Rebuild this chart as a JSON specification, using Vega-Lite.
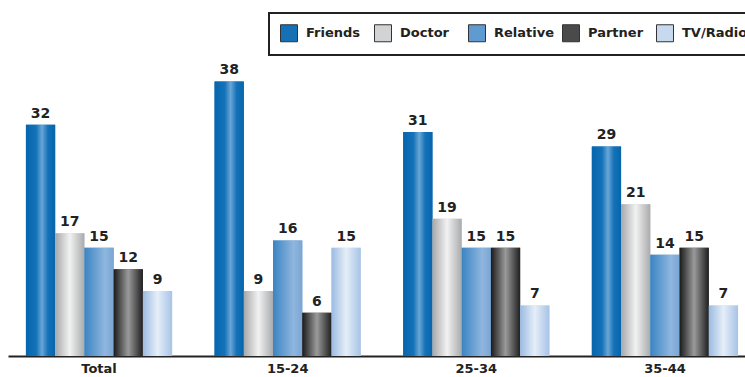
{
  "$schema": "https://vega.github.io/schema/vega-lite/v6.json",
  "width": 737,
  "height": 289,
  "autosize": "none",
  "padding": {"left": 8, "top": 67, "right": 0, "bottom": 21},
  "background": "white",
  "config": {"view": {"stroke": null}, "font": "DejaVu Sans", "legend": {"strokeWidth": 2}},
  "data": {
    "values": [
      {"group": "Total", "series": "Friends", "value": 32},
      {"group": "Total", "series": "Doctor", "value": 17},
      {"group": "Total", "series": "Relative", "value": 15},
      {"group": "Total", "series": "Partner", "value": 12},
      {"group": "Total", "series": "TV/Radio", "value": 9},
      {"group": "15-24", "series": "Friends", "value": 38},
      {"group": "15-24", "series": "Doctor", "value": 9},
      {"group": "15-24", "series": "Relative", "value": 16},
      {"group": "15-24", "series": "Partner", "value": 6},
      {"group": "15-24", "series": "TV/Radio", "value": 15},
      {"group": "25-34", "series": "Friends", "value": 31},
      {"group": "25-34", "series": "Doctor", "value": 19},
      {"group": "25-34", "series": "Relative", "value": 15},
      {"group": "25-34", "series": "Partner", "value": 15},
      {"group": "25-34", "series": "TV/Radio", "value": 7},
      {"group": "35-44", "series": "Friends", "value": 29},
      {"group": "35-44", "series": "Doctor", "value": 21},
      {"group": "35-44", "series": "Relative", "value": 14},
      {"group": "35-44", "series": "Partner", "value": 15},
      {"group": "35-44", "series": "TV/Radio", "value": 7}
    ]
  },
  "encoding": {
    "x": {
      "field": "group", "type": "nominal",
      "sort": ["Total", "15-24", "25-34", "35-44"],
      "scale": {"paddingInner": 0.225, "paddingOuter": 0.066, "align": 0.72},
      "axis": {"title": null, "domainColor": "#222", "domainWidth": 2, "ticks": false, "labelAngle": 0,
               "labelFont": "DejaVu Sans", "labelFontWeight": "bold", "labelFontSize": 13, "labelColor": "#222", "labelPadding": 6}
    },
    "xOffset": {
      "field": "series", "type": "nominal",
      "scale": {"domain": ["Friends", "Doctor", "Relative", "Partner", "TV/Radio"], "paddingInner": 0, "paddingOuter": 0}
    },
    "y": {"field": "value", "type": "quantitative", "scale": {"domain": [0, 40]}, "axis": null}
  },
  "layer": [
    {
      "mark": {"type": "bar"},
      "encoding": {
        "color": {
          "field": "series", "type": "nominal",
          "scale": {
            "domain": ["Friends", "Doctor", "Relative", "Partner", "TV/Radio"],
            "range": ["#1670b6", "#d2d3d4", "#5f9bd0", "#4a4a4a", "#c6d9ef"]
          },
          "legend": {
            "title": null, "orient": "none", "legendX": 261, "legendY": -54, "direction": "horizontal",
            "strokeColor": "#222", "padding": 11, "fillColor": "white",
            "symbolType": "square", "symbolSize": 289, "symbolStrokeColor": "#333", "symbolStrokeWidth": 1,
            "labelFont": "DejaVu Sans", "labelFontWeight": "bold", "labelFontSize": 13, "labelColor": "#222",
            "labelOffset": 8, "columnPadding": 0, "gridAlign": "all"
          }
        }
      }
    },
    {
      "transform": [{"filter": "datum.series === 'Friends'"}],
      "mark": {"type": "bar", "color": {"gradient": "linear", "x1": 0, "x2": 1, "y1": 0, "y2": 0, "stops": [
        {"offset": 0, "color": "#0565ad"}, {"offset": 0.35, "color": "#1472b8"},
        {"offset": 0.55, "color": "#6aa6d6"}, {"offset": 0.75, "color": "#1572b8"}, {"offset": 1, "color": "#0565ad"}]}}
    },
    {
      "transform": [{"filter": "datum.series === 'Doctor'"}],
      "mark": {"type": "bar", "color": {"gradient": "linear", "x1": 0, "x2": 1, "y1": 0, "y2": 0, "stops": [
        {"offset": 0, "color": "#a6a7a9"}, {"offset": 0.5, "color": "#f2f2f2"}, {"offset": 1, "color": "#a9aaac"}]}}
    },
    {
      "transform": [{"filter": "datum.series === 'Relative'"}],
      "mark": {"type": "bar", "color": {"gradient": "linear", "x1": 0, "x2": 1, "y1": 0, "y2": 0, "stops": [
        {"offset": 0, "color": "#3a84c3"}, {"offset": 0.7, "color": "#8fb6de"}, {"offset": 1, "color": "#7aa6d4"}]}}
    },
    {
      "transform": [{"filter": "datum.series === 'Partner'"}],
      "mark": {"type": "bar", "color": {"gradient": "linear", "x1": 0, "x2": 1, "y1": 0, "y2": 0, "stops": [
        {"offset": 0, "color": "#1a1a1a"}, {"offset": 0.5, "color": "#9a9a9a"}, {"offset": 1, "color": "#1f1f1f"}]}}
    },
    {
      "transform": [{"filter": "datum.series === 'TV/Radio'"}],
      "mark": {"type": "bar", "color": {"gradient": "linear", "x1": 0, "x2": 1, "y1": 0, "y2": 0, "stops": [
        {"offset": 0, "color": "#9bbbe2"}, {"offset": 0.5, "color": "#e6eef8"}, {"offset": 1, "color": "#a6c3e6"}]}}
    },
    {
      "mark": {"type": "text", "dy": -4, "baseline": "bottom", "fontWeight": "bold", "fontSize": 14, "color": "#222", "font": "DejaVu Sans"},
      "encoding": {"text": {"field": "value", "type": "quantitative"}}
    }
  ]
}
